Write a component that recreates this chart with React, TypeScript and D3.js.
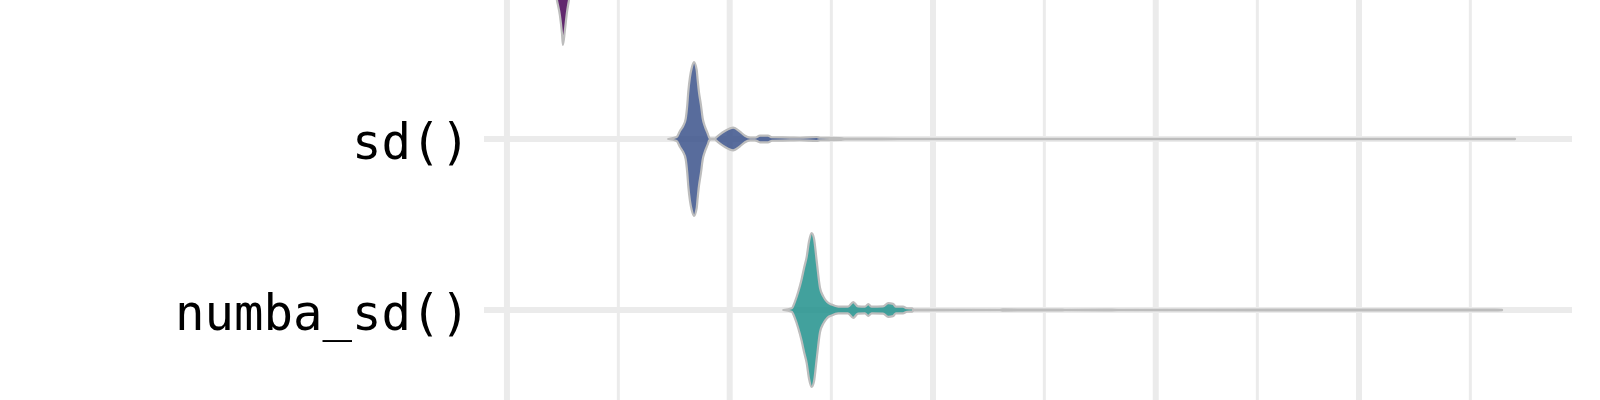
import React, { useEffect, useRef } from 'react'
import * as d3 from 'd3'

// categories, top to bottom (the first one is mostly cut off above the frame)
const categories = ['np.std()', 'sd()', 'numba_sd()']
const fillColors = ['#440154', '#3B528B', '#21908C']

// run times (log x) and relative violin widths
const stdTimes = [3.684, 3.785, 3.868, 3.931, 3.995, 4.039, 4.06, 4.105, 4.149, 4.194, 4.263, 4.403, 4.698, 5.526, 8.515]
const stdDensity = [0, 0.06, 0.19, 0.42, 0.62, 0.85, 1, 0.8, 0.58, 0.42, 0.2, 0.08, 0.04, 0.02, 0.005]

const sdTimes = [
  7.174, 7.507, 7.642, 7.78, 7.881, 7.95, 7.993, 8.067, 8.141, 8.243, 8.364, 8.409, 8.469, 8.561,
  8.64, 8.748, 8.876, 8.954, 9.036, 9.234, 9.284, 9.487, 9.746, 10.19, 10.57, 10.86, 11.16, 11.46,
  11.78, 12.3, 12.57, 13.85, 14.62, 16.0, 16.29, 18.15, 18.64, 21.11, 25.1, 43.09, 127.0, 697.2
]
const sdDensity = [
  0, 0.026, 0.104, 0.173, 0.26, 0.44, 0.61, 0.805, 0.92, 1, 0.9, 0.77, 0.61, 0.44,
  0.27, 0.16, 0.074, 0.017, 0.004, 0.004, 0.017, 0.061, 0.104, 0.147, 0.095, 0.043, 0.019, 0.017,
  0.043, 0.043, 0.023, 0.019, 0.016, 0.026, 0.016, 0.013, 0.005, 0.0045, 0.003, 0.002, 0.0015, 0.001
]

const numbaTimes = [
  13.36, 13.98, 14.23, 14.49, 14.75, 14.96, 15.16, 15.35, 15.57, 15.77, 16.0, 16.29, 16.58, 16.94,
  17.35, 17.98, 18.95, 19.5, 20.0, 20.77, 21.15, 21.54, 22.9, 23.56, 24.17, 24.56, 25.51, 26.07,
  26.78, 27.07, 43.09, 43.8, 59.61, 61.24, 76.02, 81.56, 583.3, 625.7, 649.9
]
const numbaDensity = [
  0, 0.022, 0.11, 0.24, 0.4, 0.555, 0.69, 0.89, 1, 0.93, 0.64, 0.29, 0.177, 0.103,
  0.07, 0.044, 0.044, 0.103, 0.047, 0.044, 0.076, 0.044, 0.047, 0.089, 0.08, 0.044, 0.044, 0.023,
  0.02, 0.004, 0.003, 0.007, 0.005, 0.003, 0.005, 0.003, 0.006, 0.006, 0.002
]

const allTimes = [stdTimes, sdTimes, numbaTimes]
const allDensity = [stdDensity, sdDensity, numbaDensity]

// x axis breaks (log10 scale), minor ones halfway in log space
const majorBreaks = [3, 10, 30, 100, 300]
const minorBreaks = [5.477, 17.32, 54.77, 173.2, 547.7]

export default function App() {
  const svgRef = useRef<SVGSVGElement>(null)
  const width = 1600
  const height = 400

  useEffect(() => {
    if (!svgRef.current) return
    d3.select(svgRef.current).selectAll('*').remove()

    const panel = { left: 484, right: 1572 }

    const xScale = d3.scaleLog()
      .domain([2.65, 948.7])
      .range([panel.left, panel.right])

    const yScale = d3.scalePoint<string>()
      .domain(categories)
      .range([-32, 310])

    const halfWidth = d3.scaleLinear()
      .domain([0, 1])
      .range([0, yScale.step() * 0.45])

    const svg = d3.select(svgRef.current)
      .attr('width', width)
      .attr('height', height)

    svg.append('rect')
      .attr('width', width)
      .attr('height', height)
      .attr('fill', '#ffffff')

    // grid
    svg.selectAll('.minor-grid')
      .data(minorBreaks)
      .enter()
      .append('line')
      .attr('x1', d => xScale(d))
      .attr('x2', d => xScale(d))
      .attr('y1', 0)
      .attr('y2', height)
      .attr('stroke', '#EBEBEB')
      .attr('stroke-width', 3)

    svg.selectAll('.major-grid')
      .data(majorBreaks)
      .enter()
      .append('line')
      .attr('x1', d => xScale(d))
      .attr('x2', d => xScale(d))
      .attr('y1', 0)
      .attr('y2', height)
      .attr('stroke', '#EBEBEB')
      .attr('stroke-width', 6)

    svg.selectAll('.cat-grid')
      .data(categories)
      .enter()
      .append('line')
      .attr('x1', panel.left)
      .attr('x2', panel.right)
      .attr('y1', d => yScale(d)!)
      .attr('y2', d => yScale(d)!)
      .attr('stroke', '#EBEBEB')
      .attr('stroke-width', 6)

    // violins
    categories.forEach((cat, i) => {
      const cy = yScale(cat)!
      const pts = allTimes[i].map((t, j) => [t, allDensity[i][j]] as [number, number])
      const area = d3.area<[number, number]>()
        .x(d => xScale(d[0]))
        .y0(d => cy + halfWidth(d[1]))
        .y1(d => cy - halfWidth(d[1]))
        .curve(d3.curveMonotoneX)

      svg.append('path')
        .datum(pts)
        .attr('d', area)
        .attr('fill', fillColors[i])
        .attr('fill-opacity', 0.85)
        .attr('stroke', '#BDBDBD')
        .attr('stroke-width', 2.2)
        .attr('stroke-linejoin', 'round')
    })

    // category labels (only the ones inside the frame)
    svg.selectAll('.cat-label')
      .data(categories.filter(c => yScale(c)! > 0))
      .enter()
      .append('text')
      .attr('x', 470)
      .attr('y', d => yScale(d)! + 20)
      .attr('text-anchor', 'end')
      .attr('font-family', 'DejaVu Sans Mono')
      .attr('font-size', 49)
      .attr('fill', '#000000')
      .text(d => d)
  }, [])

  return <svg ref={svgRef} style={{ position: 'absolute', left: 0, top: 0 }} />
}
